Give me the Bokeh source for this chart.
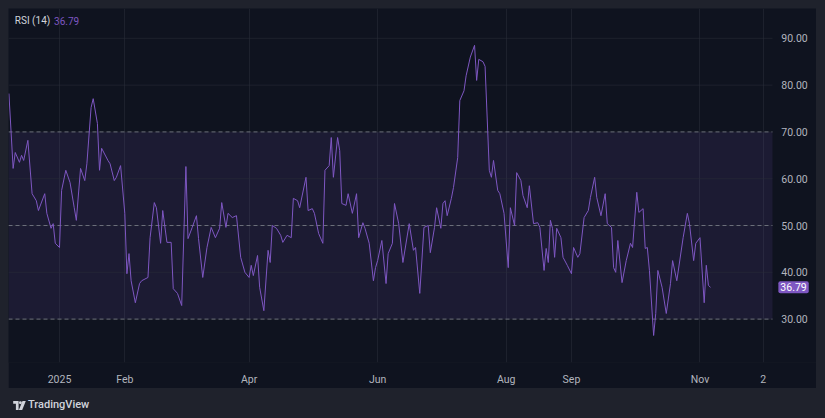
from bokeh.plotting import figure
from bokeh.models import (FixedTicker, BoxAnnotation, Label, Div, Range1d)
from bokeh.layouts import column
from bokeh.embed import file_html
from bokeh.resources import INLINE

# ---- data (x = days since 2025-01-01, RSI(14) values) ----
days = [
    -24, -22, -21, -19, -18, -17, -15, -13, -11, -10,
    -7, -6, -4, -3, -2, 0, 1, 3, 5, 7,
    8, 10, 12, 13, 15, 16, 18, 19, 20, 23,
    24, 26, 27, 29, 31, 32, 33, 34, 36, 38,
    39, 42, 43, 45, 46, 48, 49, 51, 53, 54,
    56, 58, 60, 61, 63, 65, 66, 68, 70, 72,
    74, 76, 77, 79, 80, 82, 84, 86, 88, 90,
    91, 92, 94, 95, 97, 99, 100, 101, 103, 105,
    106, 108, 110, 111, 113, 114, 117, 118, 120, 121,
    123, 125, 126, 128, 129, 130, 132, 133, 134, 136,
    137, 139, 141, 142, 144, 145, 147, 149, 150, 151,
    153, 155, 156, 158, 159, 161, 163, 166, 168, 169,
    171, 173, 175, 176, 178, 179, 181, 182, 183, 184,
    186, 187, 189, 190, 192, 193, 195, 197, 198, 199,
    201, 202, 204, 205, 206, 208, 209, 211, 213, 214,
    216, 217, 219, 220, 222, 223, 225, 227, 228, 230,
    231, 232, 233, 234, 235, 236, 238, 239, 241, 243,
    244, 246, 247, 249, 251, 252, 254, 255, 257, 259,
    260, 262, 263, 264, 265, 267, 269, 271, 272, 274,
    275, 277, 278, 279, 280, 282, 283, 284, 286, 288,
    290, 291, 293, 296, 298, 299, 301, 302, 304, 306,
    307, 308, 309,
]
rsi = [
    78.2, 62.2, 65.6, 63.5, 65.0, 63.9, 68.2, 56.8, 55.3, 53.2,
    56.8, 52.6, 49.4, 50.4, 46.2, 45.3, 57.5, 61.8, 59.2, 53.8,
    51.1, 62.2, 59.6, 63.2, 75.2, 77.1, 71.8, 61.8, 66.5, 63.9,
    63.2, 59.6, 60.3, 62.8, 52.6, 39.7, 44.0, 38.2, 33.5, 37.6,
    38.2, 38.9, 47.4, 54.9, 53.8, 46.2, 53.2, 46.4, 46.4, 36.5,
    35.5, 32.9, 62.6, 47.2, 49.6, 52.1, 47.2, 38.9, 45.3, 49.6,
    47.4, 49.4, 54.9, 49.6, 52.6, 51.7, 52.1, 43.2, 40.0, 38.9,
    41.5, 39.3, 43.6, 36.8, 31.8, 44.7, 42.1, 50.0, 49.4, 47.9,
    46.4, 47.9, 47.4, 55.8, 55.3, 53.8, 60.3, 53.2, 53.6, 52.6,
    48.3, 46.2, 61.8, 62.8, 68.8, 60.3, 68.8, 66.0, 54.7, 54.3,
    56.8, 52.6, 56.8, 47.4, 50.6, 49.4, 46.2, 38.2, 41.0, 42.5,
    46.8, 37.6, 44.0, 46.2, 54.7, 50.4, 42.1, 50.4, 44.7, 45.3,
    35.5, 49.6, 50.0, 44.2, 49.6, 53.8, 49.4, 54.7, 55.3, 52.1,
    55.8, 58.1, 64.5, 76.7, 78.8, 82.0, 86.0, 88.5, 81.0, 85.5,
    85.0, 84.0, 61.8, 60.3, 63.9, 57.5, 56.8, 52.6, 41.0, 53.8,
    50.0, 61.3, 59.6, 56.4, 53.8, 58.5, 50.4, 50.6, 49.6, 40.4,
    45.1, 42.1, 51.1, 49.4, 43.2, 49.4, 47.4, 43.2, 41.5, 39.7,
    45.3, 43.2, 44.0, 51.7, 53.2, 56.0, 60.3, 56.0, 52.1, 56.8,
    50.4, 49.6, 41.0, 40.0, 46.8, 37.8, 42.5, 46.2, 45.3, 57.1,
    52.8, 53.6, 45.1, 45.3, 40.4, 26.5, 31.2, 40.4, 36.8, 31.2,
    37.6, 42.5, 38.2, 47.4, 52.6, 50.4, 42.5, 46.2, 47.4, 33.5,
    41.5, 37.2, 36.79,
]
last_value = 36.79

x_tick_days = [0, 31, 90, 151, 212, 243, 304, 334]
x_tick_labels = ["2025", "Feb", "Apr", "Jun", "Aug", "Sep", "Nov", "2"]
y_ticks = [30, 40, 50, 60, 70, 80, 90]
y_tick_labels = ["30.00", "40.00", "50.00", "60.00", "70.00", "80.00", "90.00"]
levels = [70, 50, 30]

# ---- styles / layout constants ----
OUTER = "#1f222c"
PANEL = "#0f131f"
PURPLE = "#7e57c2"
TXT = "#b2b5be"
FONT = "Roboto"
X_START, X_END = -24.2, 359.3      # whole pane incl. price scale
PANE_END = 338.4                   # where the plotting pane ends (price scale begins)
SCALE_X = 342.6                    # where price-scale labels start

p = figure(width=808, height=380,
           x_range=Range1d(X_START, X_END), y_range=Range1d(20.73, 96.37),
           output_backend="svg", toolbar_location=None,
           min_border_left=0, min_border_top=0,
           min_border_right=0, min_border_bottom=26,
           background_fill_color=PANEL, border_fill_color=PANEL,
           outline_line_color=None)
p.yaxis.visible = False

# band between 30 and 70
p.add_layout(BoxAnnotation(bottom=30, top=70, right=PANE_END, fill_color=PURPLE,
                           fill_alpha=0.12, line_color=None, level="underlay"))

# horizontal grid (pane only)
p.ygrid.visible = False
n = len(y_ticks)
p.segment(x0=[X_START] * n, x1=[PANE_END] * n, y0=y_ticks, y1=y_ticks,
          line_color="#2a2e39", line_alpha=0.55, line_width=1)

# level lines
m = len(levels)
p.segment(x0=[X_START] * m, x1=[PANE_END] * m, y0=levels, y1=levels,
          line_color="#787b86", line_alpha=0.85, line_width=1, line_dash="4 3")

p.line(days, rsi, line_color=PURPLE, line_width=1)

# time axis
p.xaxis.ticker = FixedTicker(ticks=x_tick_days)
p.xaxis.major_label_overrides = {d: l for d, l in zip(x_tick_days, x_tick_labels)}
ax = p.xaxis[0]
ax.axis_line_color = None
ax.major_tick_line_color = None
ax.minor_tick_line_color = None
ax.major_tick_out = 0
ax.major_tick_in = 0
ax.minor_tick_out = 0
ax.minor_tick_in = 0
ax.major_label_text_color = TXT
ax.major_label_text_font = FONT
ax.major_label_text_font_size = "10.5px"
ax.major_label_standoff = 10
p.xgrid.grid_line_color = "#2a2e39"
p.xgrid.grid_line_alpha = 0.55

# price scale labels
for t, lab in zip(y_ticks, y_tick_labels):
    p.add_layout(Label(x=SCALE_X, y=t, text=lab, text_color=TXT, text_font=FONT,
                       text_font_size="10.5px", text_baseline="middle", text_align="left"))

# last value marker on price scale
p.add_layout(Label(x=SCALE_X - 1.4, y=last_value, text=f"{last_value:.2f}", text_color="#ffffff",
                   text_font=FONT, text_font_size="10.5px", text_baseline="middle",
                   text_align="left", background_fill_color=PURPLE, padding=2,
                   border_radius=2))

# legend-like header
p.add_layout(Label(x=-21.2, y=93.8, text="RSI (14)", text_color="#d1d4dc",
                   text_font=FONT, text_font_size="10px", text_baseline="middle"))
p.add_layout(Label(x=-2.6, y=93.8, text=f"{last_value:.2f}", text_color=PURPLE,
                   text_font=FONT, text_font_size="10px", text_baseline="middle"))

logo = Div(width=808, height=22, text=(
    '<div style="display:flex;align-items:center;height:22px;transform:translateY(1px);'
    'font-family:Roboto;font-size:11px;font-weight:500;color:#d1d4dc;">'
    '<svg width="13" height="9" viewBox="0 0 14 10">'
    '<path d="M0 0h6v10h-3v-7h-3z" fill="#d1d4dc"/>'
    '<circle cx="8" cy="2" r="1.6" fill="#d1d4dc"/>'
    '<path d="M10.3 0h3.7l-4 10h-3.7z" fill="#d1d4dc"/></svg>'
    '<span style="margin-left:2px;">TradingView</span></div>'))

layout = column(p, logo, spacing=0)
html = file_html(layout, INLINE, title="RSI (14)")
html = html.replace("</head>",
                    "<style>html,body{background:%s !important;}"
                    "body{padding:8px !important;}</style></head>" % OUTER, 1)
open("out.html", "w").write(html)
